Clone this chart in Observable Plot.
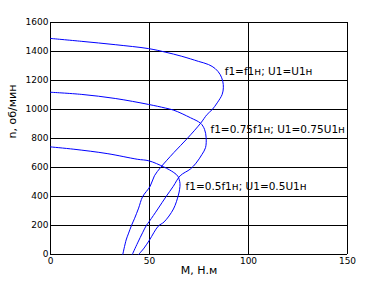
<!DOCTYPE html>
<html>
<head>
<meta charset="utf-8">
<script src="https://cdn.jsdelivr.net/npm/d3@7"></script>
<script src="https://cdn.jsdelivr.net/npm/@observablehq/plot@0.6"></script>
<style>
  html, body { margin: 0; padding: 0; background: #fff; }
  #chart svg { display: block; }
</style>
</head>
<body>
<div id="chart"></div>
<script>
// Curve 1: f1 = f1н; U1 = U1н
const m1 = [0, 15.8, 32.7, 49.5, 57.9, 66.3, 74.7, 79.8, 83.2, 85.7, 87.0, 87.3, 86.7, 84.2, 81.7, 79.1, 75.8, 69.0, 62.3, 55.6, 52.5, 50.3, 46.5, 44.5, 42.5, 40.9, 39.3, 38.2, 36.5];
const n1 = [1490, 1470, 1447, 1420, 1396, 1367, 1332, 1310, 1282, 1241, 1195, 1150, 1104, 1046, 1000, 966, 905, 799, 703, 600, 543, 470, 398, 320, 250, 200, 142, 100, 0];
// Curve 2: f1 = 0.75f1н; U1 = 0.75U1н
const m2 = [0, 15.8, 32.7, 49.5, 58.0, 62.3, 70.7, 75.8, 77.8, 78.6, 78.3, 76.5, 73.5, 70.7, 65.5, 62.0, 58.4, 54.2, 50.0, 48.4, 46.5, 44.0, 41.3];
const n2 = [1119, 1104, 1076, 1035, 1010, 995, 943, 905, 863, 806, 737, 690, 630, 590, 543, 470, 400, 314, 230, 200, 150, 80, 0];
// Curve 3: f1 = 0.5f1н; U1 = 0.5U1н
const m3 = [0, 11.8, 28.6, 43.8, 49.7, 57.2, 62.3, 64.3, 65.4, 65.2, 64.6, 62.1, 57.4, 54.4, 50.0, 47.3, 44.5];
const n3 = [742, 726, 696, 657, 646, 604, 565, 540, 490, 450, 410, 314, 225, 195, 100, 45, 0];

const seriesNames = ["f1=f1н; U1=U1н", "f1=0.75f1н; U1=0.75U1н", "f1=0.5f1н; U1=0.5U1н"];
const labelM = [88, 80.8, 68.2];
const labelN = [1264, 863, 467];

const xTicks = [0, 50, 100, 150];
const yTicks = [0, 200, 400, 600, 800, 1000, 1200, 1400, 1600];
const xLabel = "М, Н.м";
const yLabel = "n, об/мин";

const rows = [];
[[m1, n1], [m2, n2], [m3, n3]].forEach(([ms, ns], i) => {
  ms.forEach((m, j) => rows.push({series: seriesNames[i], m, n: ns[j]}));
});
const labels = seriesNames.map((s, i) => ({text: s, m: labelM[i], n: labelN[i]}));

const chart = Plot.plot({
  width: 384,
  height: 285,
  marginLeft: 50,
  marginRight: 37,
  marginTop: 22,
  marginBottom: 31,
  style: {fontFamily: "DejaVu Sans", fontSize: "9px", color: "#000", background: "#fff"},
  x: {domain: [0, 150], ticks: xTicks},
  y: {domain: [0, 1600], ticks: yTicks},
  marks: [
    Plot.ruleX(xTicks, {stroke: "#000", strokeWidth: 1, shapeRendering: "crispEdges"}),
    Plot.ruleY(yTicks, {stroke: "#000", strokeWidth: 1, shapeRendering: "crispEdges"}),
    Plot.axisX({ticks: xTicks, tickSize: 0, tickPadding: 3, tickFormat: d3.format("d"), label: null}),
    Plot.axisY({ticks: yTicks, tickSize: 0, tickPadding: 2, tickFormat: d3.format("d"), label: null}),
    Plot.line(rows, {x: "m", y: "n", z: "series", stroke: "#0000ff", strokeWidth: 1, curve: "catmull-rom"}),
    Plot.text(labels, {x: "m", y: "n", text: "text", textAnchor: "start", fontSize: 10.5, fill: "#000"}),
    Plot.text([xLabel], {frameAnchor: "bottom", text: d => d, dy: 19, fontSize: 11, fill: "#000"}),
    Plot.text([yLabel], {frameAnchor: "left", text: d => d, dx: -38, rotate: -90, fontSize: 11, fill: "#000"})
  ]
});
document.getElementById("chart").appendChild(chart);
</script>
</body>
</html>
